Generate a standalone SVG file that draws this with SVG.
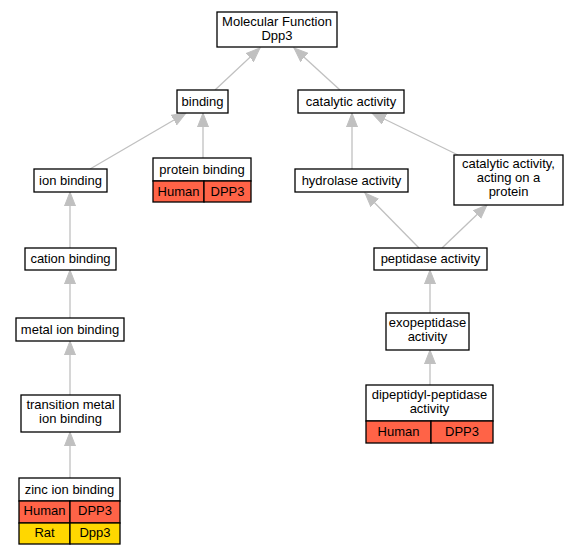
<svg xmlns="http://www.w3.org/2000/svg" width="577" height="555" viewBox="0 0 577 555">
<style>
.box{fill:#fff;stroke:#000;stroke-width:1.3}
.red{fill:#ff6347;stroke:#000;stroke-width:1.3}
.yel{fill:#ffd700;stroke:#000;stroke-width:1.3}
text{font-family:"Liberation Sans",Arial,sans-serif;font-size:13px;fill:#000;text-anchor:middle}
.edge{stroke:#c0c0c0;stroke-width:1.3;fill:none;marker-end:url(#ah)}
</style>
<defs>
<marker id="ah" markerUnits="userSpaceOnUse" markerWidth="16" markerHeight="12" refX="14" refY="5.5" orient="auto" viewBox="0 0 16 11">
<path d="M0,0 L14,5.5 L0,11 Z" fill="#c0c0c0" stroke="#c0c0c0"/>
</marker>
</defs>
<rect width="577" height="555" fill="#fff"/>
<g id="edges">
<path class="edge" d="M215,90 L260,48"/>
<path class="edge" d="M340,90 L294,48"/>
<path class="edge" d="M90,169 L186,113"/>
<path class="edge" d="M203,158 L203,113"/>
<path class="edge" d="M70,248 L70,192"/>
<path class="edge" d="M70,318 L70,270"/>
<path class="edge" d="M70,395 L70,341"/>
<path class="edge" d="M70,478 L70,432"/>
<path class="edge" d="M352,169 L352,113"/>
<path class="edge" d="M458,155 L372,113"/>
<path class="edge" d="M419,248 L365,193"/>
<path class="edge" d="M442,248 L487,205"/>
<path class="edge" d="M430,313 L430,270"/>
<path class="edge" d="M430,385 L430,350"/>
</g>
<g id="mf"><rect class="box" x="217" y="12" width="120" height="35"/><text x="277" y="26">Molecular Function</text><text x="277" y="39.5">Dpp3</text></g>
<g id="binding"><rect class="box" x="177" y="90" width="51" height="23"/><text x="202.5" y="106">binding</text></g>
<g id="catalytic"><rect class="box" x="298" y="90" width="106" height="23"/><text x="351" y="106">catalytic activity</text></g>
<g id="ionbinding"><rect class="box" x="34" y="169" width="73" height="23"/><text x="70.5" y="185">ion binding</text></g>
<g id="proteinbinding"><rect class="box" x="153" y="158" width="98" height="23"/><text x="202" y="174">protein binding</text>
<rect class="red" x="153" y="181" width="51" height="21"/><rect class="red" x="204" y="181" width="47" height="21"/>
<text x="178.5" y="196">Human</text><text x="227.5" y="196">DPP3</text></g>
<g id="hydrolase"><rect class="box" x="295" y="169" width="113" height="23"/><text x="351.5" y="185">hydrolase activity</text></g>
<g id="catprotein"><rect class="box" x="454" y="155" width="109" height="50"/><text x="508.5" y="168">catalytic activity,</text><text x="508.5" y="182">acting on a</text><text x="508.5" y="196">protein</text></g>
<g id="cation"><rect class="box" x="25" y="248" width="91" height="22"/><text x="70.5" y="263">cation binding</text></g>
<g id="peptidase"><rect class="box" x="374" y="248" width="113" height="22"/><text x="430.5" y="263">peptidase activity</text></g>
<g id="metalion"><rect class="box" x="16" y="318" width="108" height="23"/><text x="70" y="334">metal ion binding</text></g>
<g id="exopeptidase"><rect class="box" x="386" y="313" width="83" height="37"/><text x="427.5" y="327">exopeptidase</text><text x="427.5" y="341">activity</text></g>
<g id="transition"><rect class="box" x="21" y="395" width="99" height="37"/><text x="70.5" y="409">transition metal</text><text x="70.5" y="423">ion binding</text></g>
<g id="dipeptidyl"><rect class="box" x="366" y="385" width="127" height="36"/><text x="429.5" y="399">dipeptidyl-peptidase</text><text x="429.5" y="413">activity</text>
<rect class="red" x="366" y="421" width="65" height="22"/><rect class="red" x="431" y="421" width="62" height="22"/>
<text x="398.5" y="435.5">Human</text><text x="462" y="435.5">DPP3</text></g>
<g id="zinc"><rect class="box" x="19" y="478" width="101" height="23"/><text x="69.5" y="493.5">zinc ion binding</text>
<rect class="red" x="19" y="501" width="51" height="22"/><rect class="red" x="70" y="501" width="50" height="22"/>
<text x="44.5" y="515">Human</text><text x="95" y="515">DPP3</text>
<rect class="yel" x="19" y="523" width="51" height="21"/><rect class="yel" x="70" y="523" width="50" height="21"/>
<text x="44.5" y="537">Rat</text><text x="95" y="537">Dpp3</text></g>
</svg>
